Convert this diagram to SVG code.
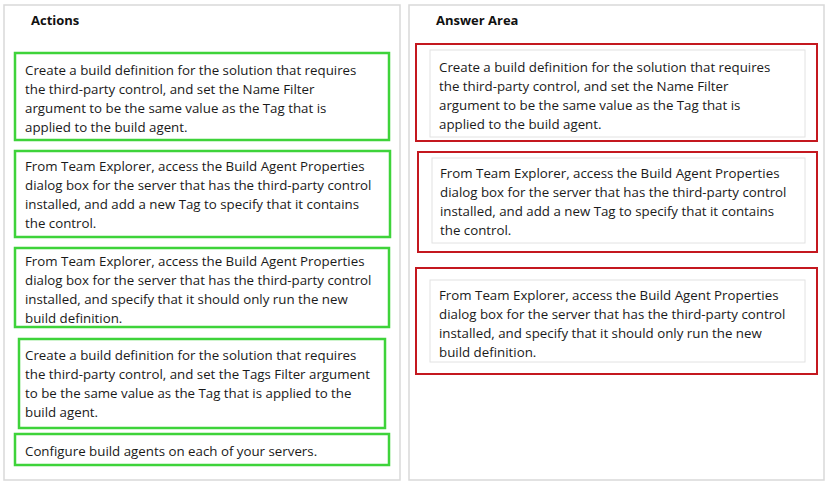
<svg xmlns="http://www.w3.org/2000/svg" width="828" height="485" viewBox="0 0 828 485">
<style>
.p{fill:#fff;stroke:#d9d9d9;stroke-width:1.5}
.h{font:bold 13px "Open Sans",sans-serif;fill:#111}
.t{font:13.3px "Open Sans",sans-serif;fill:#1a1a1a}
.g{fill:#fff;stroke:#3ed33a;stroke-width:2.5}
.r{fill:#fff;stroke:#c4181f;stroke-width:2}
.i{fill:none;stroke:#e2e2e2;stroke-width:1}
</style>
<rect width="828" height="485" fill="#fff"/>
<rect class="p" x="4" y="5" width="396" height="475"/>
<rect class="p" x="409" y="5" width="415" height="475"/>
<text class="h" x="31" y="25">Actions</text>
<text class="h" x="436" y="25">Answer Area</text>
<g id="a1"><rect class="g" x="15" y="53" width="374" height="87"/>
<text class="t" x="25" y="75">Create a build definition for the solution that requires</text>
<text class="t" x="25" y="94">the third-party control, and set the Name Filter</text>
<text class="t" x="25" y="113">argument to be the same value as the Tag that is</text>
<text class="t" x="25" y="132">applied to the build agent.</text></g>
<g id="a2"><rect class="g" x="15" y="151" width="375" height="86"/>
<text class="t" x="25" y="171">From Team Explorer, access the Build Agent Properties</text>
<text class="t" x="25" y="190">dialog box for the server that has the third-party control</text>
<text class="t" x="25" y="209">installed, and add a new Tag to specify that it contains</text>
<text class="t" x="25" y="228">the control.</text></g>
<g id="a3"><rect class="g" x="15" y="248" width="374" height="79"/>
<text class="t" x="25" y="266">From Team Explorer, access the Build Agent Properties</text>
<text class="t" x="25" y="285">dialog box for the server that has the third-party control</text>
<text class="t" x="25" y="304">installed, and specify that it should only run the new</text>
<text class="t" x="25" y="323">build definition.</text></g>
<g id="a4"><rect class="g" x="19" y="339" width="366" height="89"/>
<text class="t" x="25" y="360">Create a build definition for the solution that requires</text>
<text class="t" x="25" y="379">the third-party control, and set the Tags Filter argument</text>
<text class="t" x="25" y="398">to be the same value as the Tag that is applied to the</text>
<text class="t" x="25" y="417">build agent.</text></g>
<g id="a5"><rect class="g" x="15" y="434" width="374" height="31"/>
<text class="t" x="25" y="456">Configure build agents on each of your servers.</text></g>
<g id="b1"><rect class="r" x="416" y="44" width="401" height="97"/>
<rect class="i" x="430" y="50" width="375" height="87"/>
<text class="t" x="439" y="72">Create a build definition for the solution that requires</text>
<text class="t" x="439" y="91">the third-party control, and set the Name Filter</text>
<text class="t" x="439" y="110">argument to be the same value as the Tag that is</text>
<text class="t" x="439" y="129">applied to the build agent.</text></g>
<g id="b2"><rect class="r" x="418" y="152" width="399" height="100"/>
<rect class="i" x="432" y="158" width="373" height="85"/>
<text class="t" x="440" y="178">From Team Explorer, access the Build Agent Properties</text>
<text class="t" x="440" y="197">dialog box for the server that has the third-party control</text>
<text class="t" x="440" y="216">installed, and add a new Tag to specify that it contains</text>
<text class="t" x="440" y="235">the control.</text></g>
<g id="b3"><rect class="r" x="416" y="268" width="401" height="106"/>
<rect class="i" x="430" y="280" width="375" height="82"/>
<text class="t" x="439" y="300">From Team Explorer, access the Build Agent Properties</text>
<text class="t" x="439" y="319">dialog box for the server that has the third-party control</text>
<text class="t" x="439" y="338">installed, and specify that it should only run the new</text>
<text class="t" x="439" y="357">build definition.</text></g>
<g id="connectors"/>
</svg>
